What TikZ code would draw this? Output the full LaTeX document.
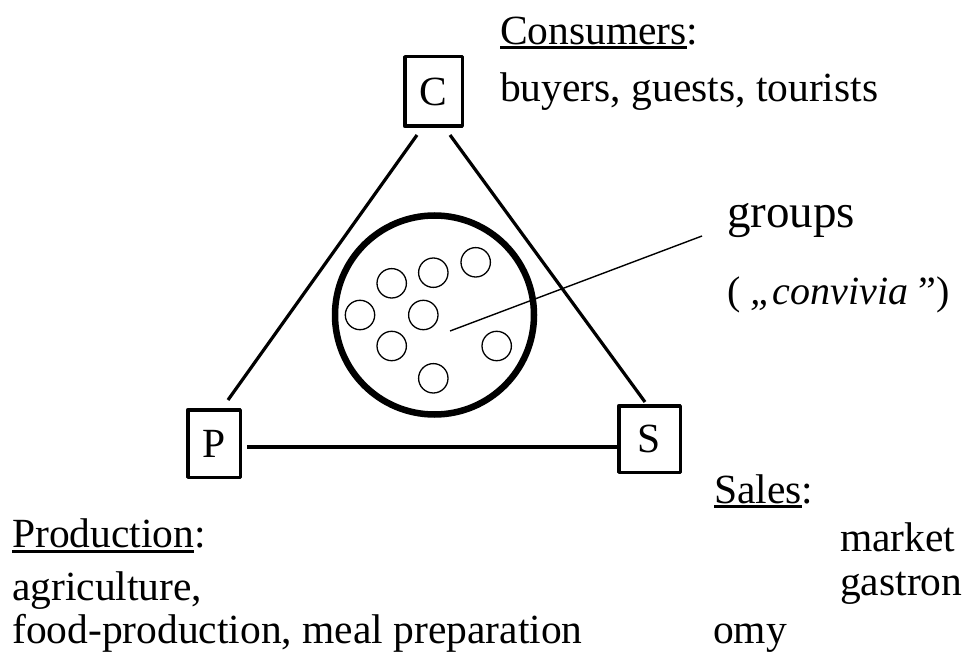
\documentclass[tikz,border=0pt]{standalone}
\usepackage{fontspec}
\setmainfont{Liberation Serif}
\usetikzlibrary{calc}
\newcommand\myul[2][5.5pt]{\setbox0\hbox{#2}\rlap{\rule[-#1]{\wd0}{2.6pt}}\box0}
\begin{document}
\begin{tikzpicture}[x=1pt,y=-1pt,
  lettbox/.style={draw,line width=3.5pt,line join=round,inner sep=0pt,font=\fontsize{41.5}{41.5}\selectfont},
  tline/.style={line width=3.2pt},
  baseline/.style={line width=4.2pt},
  pointer/.style={line width=1.4pt},
  txt/.style={anchor=base west,inner sep=0pt,font=\fontsize{41.5}{41.5}\selectfont},
  member/.style={draw,circle,line width=1.3pt,minimum size=29.4pt,inner sep=0pt},
  groupring/.style={draw,circle,line width=6.5pt,minimum size=199pt,inner sep=0pt}]
\useasboundingbox (0,0) rectangle (967,658);
% corner boxes
\node[lettbox,minimum width=57.5pt,minimum height=69.5pt] (C) at (433.5,91.5) {C};
\node[lettbox,minimum width=52.5pt,minimum height=67.5pt] (P) at (214,443.5) {P};
\node[lettbox,minimum width=61.5pt,minimum height=66.5pt] (S) at (649.5,439) {S};
% connector end points
\coordinate (cl) at ($(C.south)+(-16.5,7)$);
\coordinate (cr) at ($(C.south)+(16.5,7)$);
\coordinate (pt) at ($(P.north)+(14,-8)$);
\coordinate (st) at ($(S.north)+(-4.5,-2)$);
\coordinate (pr) at ($(P.east)+(5,3.5)$);
\draw[tline] (cl) -- (pt);
\draw[tline] (cr) -- (st);
\draw[baseline] (pr) -- (pr -| S.west);
% group circle
\node[groupring] (grp) at (434.5,315) {};
\node[member] (m1) at (391.7,283.3) {};
\node[member] (m2) at (433.3,272.7) {};
\node[member] (m3) at (475.7,262.3) {};
\node[member] (m4) at (360,315) {};
\node[member] (m5) at (423.3,315) {};
\node[member] (m6) at (391.7,346) {};
\node[member] (m7) at (496.7,346) {};
\node[member] (m8) at (433.3,378.3) {};
% pointer
\coordinate (pin) at (450,331);
\coordinate (pout) at (702,236);
\draw[pointer] (pin) -- (pout);
% texts
\node[txt] (cons) at (500,45) {\myul[4pt]{Consumers}:};
\node[txt] (consl) at (500,102) {buyers, guests, tourists};
\node[txt,font=\fontsize{47}{47}\selectfont] (groups) at (727,227) {groups};
\node[txt,font=\fontsize{40}{40}\selectfont] (conv) at (727,304) {( \textit{„convivia} ”)};
\node[txt] (sales) at (714,503) {\myul[5pt]{Sales}:};
\node[txt] (market) at (840,551) {market};
\node[txt] (gastron) at (840,595) {gastron};
\node[txt] (omy) at (713,643) {omy};
\node[txt] (prod) at (12,547) {\myul[6pt]{Production}:};
\node[txt] (agri) at (12,600) {agriculture,};
\node[txt] (food) at (12,643) {food-production, meal preparation};
\end{tikzpicture}
\end{document}
